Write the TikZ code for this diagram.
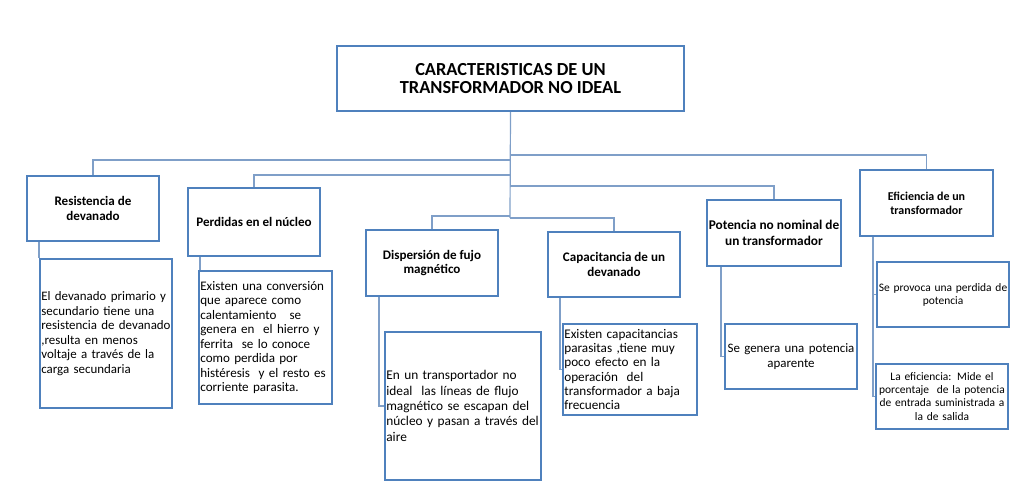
\documentclass[tikz,border=0pt]{standalone}
\usepackage{fontspec}
\setmainfont{Carlito}
\usetikzlibrary{calc}
\definecolor{boxblue}{HTML}{4F81BD}
\definecolor{linkblue}{HTML}{7F9FC8}
\begin{document}
\begin{tikzpicture}[x=0.75pt,y=-0.75pt,
  bx/.style={draw=boxblue,line width=1.6pt,fill=white,inner xsep=1pt,inner ysep=0pt},
  hdr/.style={bx,font=\bfseries\fontsize{9.8}{11}\selectfont,align=center},
  body/.style={bx,font=\fontsize{9.8}{10.9}\selectfont,align=left},
  cbody/.style={bx,font=\fontsize{9.7}{10.9}\selectfont,align=center},
  conn/.style={draw=linkblue,line width=0.9pt}]
\useasboundingbox (0,0) rectangle (1022,498);
% title
\node[bx,font=\bfseries\fontsize{13.8}{14}\selectfont,align=center,minimum width=260.25pt,minimum height=48.75pt] (title) at (510.5,78.5) {CARACTERISTICAS DE UN\\TRANSFORMADOR NO IDEAL};
% headers
\node[hdr,minimum width=99pt,minimum height=48.75pt] (res) at (93,208.5) {Resistencia de\\devanado};
\node[hdr,minimum width=99pt,minimum height=51pt] (perd) at (254,222) {Perdidas en el núcleo};
\node[hdr,minimum width=99pt,minimum height=49.5pt] (disp) at (432,263) {Dispersión de fujo\\magnético};
\node[hdr,minimum width=99pt,minimum height=48.75pt] (cap) at (614,264.5) {Capacitancia de un\\devanado};
\node[hdr,font=\bfseries\fontsize{10}{12}\selectfont,minimum width=100.5pt,minimum height=49.5pt] (pot) at (774,233) {Potencia no nominal de\\un transformador};
\node[hdr,font=\bfseries\fontsize{9}{10.5}\selectfont,minimum width=99.75pt,minimum height=49.5pt] (ef) at (926.5,203) {Eficiencia de un\\transformador};
% sub boxes
\node[body,font=\fontsize{9.7}{10.9}\selectfont,text width=97pt,minimum height=111.75pt] (sres) at (106,333.5) {El devanado primario y\\secundario tiene una\\resistencia de devanado\\,resulta en menos\\voltaje a través de la\\carga secundaria};
\node[body,text width=97.75pt,minimum height=99.75pt] (sperd) at (265.5,337.5) {Existen una conversión\\que aparece como\\calentamiento\ \ \ se\\genera en\ \ el hierro y\\ferrita\ \ se lo conoce\\como perdida por\\histéresis\ \ y el resto es\\corriente parasita.};
\node[body,font=\fontsize{10}{11.5}\selectfont,text width=115pt,minimum height=111pt] (sdisp) at (463,406) {En un transportador no\\ideal\ \ las líneas de flujo\\magnético se escapan del\\núcleo y pasan a través del\\aire};
\node[body,font=\fontsize{9.9}{10.7}\selectfont,text width=98.5pt,minimum height=68.25pt] (scap) at (630,369.5) {Existen capacitancias\\parasitas ,tiene muy\\poco efecto en la\\operación\ \ del\\transformador a baja\\frecuencia};
\node[cbody,text width=97pt,minimum height=48.75pt] (spot) at (791,356.5) {Se genera una potencia\\aparente};
\node[cbody,font=\fontsize{8.6}{9.8}\selectfont,text width=97pt,minimum height=48.75pt] (sef1) at (943,294.5) {Se provoca una perdida de\\potencia};
\node[cbody,font=\fontsize{8.6}{9.8}\selectfont,text width=97pt,minimum height=48.75pt] (sef2) at (942,396.5) {La eficiencia: Mide el\\porcentaje\ \ de la potencia\\de entrada suministrada a\\la de salida};
% connectors
\coordinate (t1) at (510,155);
\coordinate (t2) at (510,160);
\coordinate (t3) at (510,175);
\coordinate (t4) at (510,186);
\coordinate (t5) at (510,216);
\coordinate (t6) at (510,218);
\draw[conn] (title.south) -- (t6);
\draw[conn] (t1) -| (ef.north);
\draw[conn] (t2) -| (res.north);
\draw[conn] (t3) -| (perd.north);
\draw[conn] (t4) -| (pot.north);
\draw[conn] (t5) -| (disp.north);
\draw[conn] (t6) -| (cap.north);
\draw[conn] (res.south -| sres.west) -- (sres.north west);
\draw[conn] ($(perd.south west)+(13,0)$) -- ($(sperd.north west)+(2,0)$);
\draw[conn] ($(disp.south west)+(14,0)$) |- (sdisp.west);
\draw[conn] ($(cap.south west)+(13,0)$) |- (scap.west);
\draw[conn] ($(pot.south west)+(15,0)$) |- (spot.west);
\draw[conn] ($(ef.south west)+(14,0)$) |- (sef1.west);
\draw[conn] ($(ef.south west)+(14,0)$) |- (sef2.west);
\end{tikzpicture}
\end{document}
